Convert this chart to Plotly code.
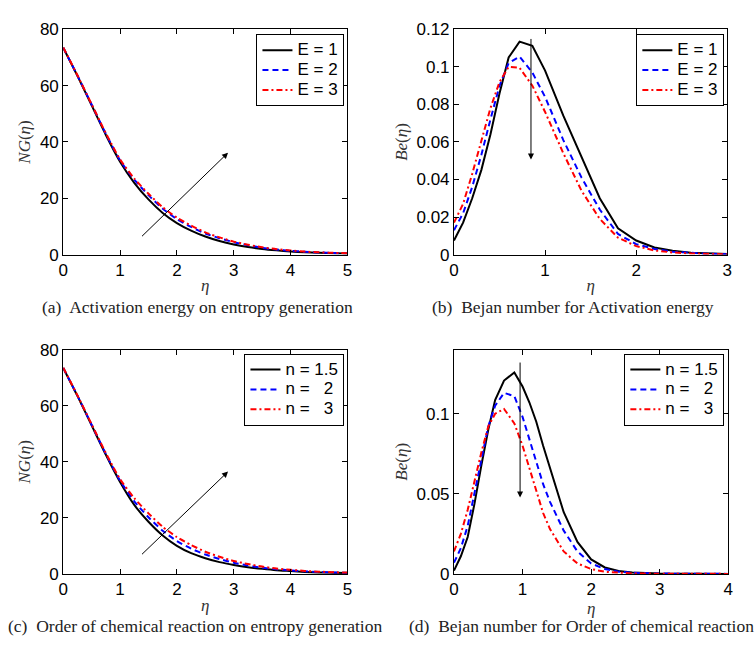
import plotly.graph_objects as go

# ---------------- data ----------------
eta_ng = [0, 0.25, 0.5, 0.75, 1.0, 1.25, 1.5, 1.75, 2.0, 2.25, 2.5, 2.75, 3.0,
          3.25, 3.5, 3.75, 4.0, 4.25, 4.5, 4.75, 5.0]

ng_E1 = [73.5, 63.5, 53.0, 42.5, 33.0, 25.5, 19.6, 14.8, 11.2, 8.5, 6.4, 4.8, 3.6,
         2.7, 2.0, 1.5, 1.1, 0.8, 0.6, 0.45, 0.35]
ng_E2 = [73.5, 63.6, 53.3, 42.9, 33.5, 26.6, 21.1, 16.3, 12.6, 9.8, 7.5, 5.8, 4.4,
         3.3, 2.4, 1.8, 1.35, 1.0, 0.75, 0.55, 0.42]
ng_E3 = [73.6, 63.7, 53.4, 43.1, 33.8, 27.0, 21.6, 16.8, 13.1, 10.3, 7.9, 6.1, 4.6,
         3.5, 2.6, 1.9, 1.45, 1.05, 0.8, 0.6, 0.45]

ng_n15 = [73.5, 63.5, 53.0, 42.5, 32.8, 24.6, 18.6, 13.7, 10.0, 7.4, 5.6, 4.2, 3.2,
          2.4, 1.8, 1.3, 1.0, 0.7, 0.5, 0.4, 0.3]
ng_n2 = [73.5, 63.6, 53.2, 42.8, 33.3, 25.9, 20.2, 15.4, 11.7, 9.0, 6.9, 5.3, 4.0,
         3.0, 2.2, 1.65, 1.25, 0.9, 0.7, 0.5, 0.4]
ng_n3 = [73.6, 63.7, 53.4, 43.1, 33.8, 27.0, 21.6, 16.8, 13.1, 10.3, 7.9, 6.1, 4.6,
         3.5, 2.6, 1.9, 1.45, 1.05, 0.8, 0.6, 0.45]

eta_be_E = [0, 0.1, 0.2, 0.3, 0.4, 0.5, 0.6, 0.72, 0.86, 1.0, 1.2, 1.4, 1.6, 1.8,
            2.0, 2.2, 2.4, 2.6, 2.8, 3.0]
be_E1 = [0.0075, 0.017, 0.030, 0.045, 0.064, 0.086, 0.105, 0.1135, 0.1112, 0.098,
         0.074, 0.052, 0.030, 0.014, 0.0075, 0.0038, 0.002, 0.001, 0.0005, 0.0003]
be_E2 = [0.013, 0.022, 0.036, 0.053, 0.072, 0.090, 0.102, 0.1055, 0.097, 0.084,
         0.061, 0.041, 0.024, 0.011, 0.0055, 0.003, 0.0015, 0.0008, 0.0004, 0.0002]
be_E3 = [0.017, 0.027, 0.043, 0.060, 0.078, 0.092, 0.100, 0.0995, 0.090, 0.076,
         0.054, 0.034, 0.019, 0.009, 0.0045, 0.0022, 0.0011, 0.0006, 0.0003, 0.0001]

eta_be_n = [0, 0.1, 0.2, 0.3, 0.4, 0.5, 0.6, 0.73, 0.88, 1.0, 1.1, 1.2, 1.3, 1.4,
            1.6, 1.8, 2.0, 2.2, 2.4, 2.6, 3.0, 3.5, 4.0]
be_n15 = [0.002, 0.011, 0.023, 0.044, 0.068, 0.090, 0.1085, 0.1207, 0.1258, 0.117,
          0.107, 0.095, 0.080, 0.066, 0.0385, 0.020, 0.009, 0.004, 0.0018, 0.0009,
          0.0003, 0.0001, 0.0]
be_n2 = [0.007, 0.016, 0.030, 0.050, 0.072, 0.092, 0.105, 0.113, 0.111, 0.098,
         0.084, 0.070, 0.056, 0.045, 0.027, 0.014, 0.0065, 0.003, 0.0014, 0.0007,
         0.0002, 0.0001, 0.0]
be_n3 = [0.014, 0.025, 0.040, 0.058, 0.076, 0.092, 0.100, 0.103, 0.094, 0.080,
         0.066, 0.051, 0.038, 0.028, 0.014, 0.0065, 0.003, 0.0013, 0.0006, 0.0003,
         0.0001, 0.0, 0.0]

labels_E = ["E = 1", "E = 2", "E = 3"]
labels_n = ["n = 1.5", "n =\u00a0\u00a0\u00a02", "n =\u00a0\u00a0\u00a03"]
captions = ["(a)\u00a0 Activation energy on entropy generation",
            "(b)\u00a0 Bejan number for Activation energy",
            "(c)\u00a0 Order of chemical reaction on entropy generation",
            "(d)\u00a0 Bejan number for Order of chemical reaction"]

# ---------------- styling ----------------
W, H = 756, 646
colors = ["black", "blue", "red"]
dashes = ["solid", "6px,4px", "6px,3px,2px,3px"]
TICKFONT = dict(family="Liberation Sans, Arial, sans-serif", size=17, color="black")
TITLEFONT = dict(family="Liberation Serif, Times New Roman, serif", size=17, color="#333")
CAPFONT = dict(family="Liberation Serif, Times New Roman, serif", size=17.5, color="#222")

fig = go.Figure()

panels = [
    dict(x=eta_ng, ys=[ng_E1, ng_E2, ng_E3], labels=labels_E, shape="spline"),
    dict(x=eta_be_E, ys=[be_E1, be_E2, be_E3], labels=labels_E, shape="linear"),
    dict(x=eta_ng, ys=[ng_n15, ng_n2, ng_n3], labels=labels_n, shape="spline"),
    dict(x=eta_be_n, ys=[be_n15, be_n2, be_n3], labels=labels_n, shape="linear"),
]

for p_i, p in enumerate(panels):
    ax = "" if p_i == 0 else str(p_i + 1)
    leg = "legend" if p_i == 0 else "legend" + str(p_i + 1)
    for k in range(3):
        fig.add_trace(go.Scatter(
            x=p["x"], y=p["ys"][k], mode="lines",
            name='<span style="font-size:17px">' + p["labels"][k] + "</span>",
            line=dict(color=colors[k], width=2, dash=dashes[k], shape=p["shape"],
                      smoothing=0.6),
            xaxis="x" + ax, yaxis="y" + ax, legend=leg, showlegend=True))

# axis pixel boxes (left, right, top, bottom)
boxes = [(59, 347, 21, 253), (455, 732, 21, 253), (59, 347, 351, 582), (455, 733, 351, 582)]
xranges = [[0, 5], [0, 3], [0, 5], [0, 4]]
yranges = [[0, 80], [0, 0.12], [0, 80], [0, 0.14]]
ytickvals = [[0, 20, 40, 60, 80], [0, 0.02, 0.04, 0.06, 0.08, 0.1, 0.12],
             [0, 20, 40, 60, 80], [0, 0.05, 0.1]]
yticktext = [["0", "20", "40", "60", "80"],
             ["0", "0.02", "0.04", "0.06", "0.08", "0.1", "0.12"],
             ["0", "20", "40", "60", "80"], ["0", "0.05", "0.1"]]
ytitles = ["<i>NG</i>(<i>η</i>)", "<i>Be</i>(<i>η</i>)", "<i>NG</i>(<i>η</i>)", "<i>Be</i>(<i>η</i>)"]

layout = dict(width=W, height=H, margin=dict(l=0, r=0, t=0, b=0), autosize=False,
              paper_bgcolor="white", plot_bgcolor="white")

for i, (l, r, t, b) in enumerate(boxes):
    ax = "" if i == 0 else str(i + 1)
    common = dict(showline=True, linecolor="black", linewidth=1, mirror="allticks",
                  ticks="inside", ticklen=5, tickcolor="black", showgrid=False,
                  zeroline=False, tickfont=TICKFONT)
    layout["xaxis" + ax] = dict(common, domain=[l / W, r / W], range=xranges[i],
                                dtick=1, tick0=0, anchor="y" + ax,
                                title=dict(text="<i>η</i>", font=TITLEFONT, standoff=0))
    layout["yaxis" + ax] = dict(common, domain=[1 - b / H, 1 - t / H], range=yranges[i],
                                tickvals=ytickvals[i], ticktext=yticktext[i],
                                anchor="x" + ax,
                                title=dict(text=ytitles[i], font=TITLEFONT, standoff=4))

legend_pos = [(344, 26), (729, 26), (344, 355), (729, 355)]
for i, (lx, ly) in enumerate(legend_pos):
    key = "legend" if i == 0 else "legend" + str(i + 1)
    layout[key] = dict(x=lx / W, y=1 - ly / H, xanchor="right", yanchor="top",
                       xref="paper", yref="paper",
                       bgcolor="white", bordercolor="black", borderwidth=1,
                       font=dict(family="Liberation Sans, Arial, sans-serif", size=13,
                                 color="black"),
                       tracegroupgap=0, itemwidth=30)

fig.update_layout(**layout)

# arrows (in data coordinates)
arrows = [
    ("x", "y", 1.36, 6.0, 2.9, 36.2),
    ("x2", "y2", 0.845, 0.1157, 0.845, 0.0506),
    ("x3", "y3", 1.36, 6.5, 2.9, 36.5),
    ("x4", "y4", 0.964, 0.1329, 0.964, 0.0477),
]
for xr, yr, x0, y0, x1, y1 in arrows:
    fig.add_annotation(x=x1, y=y1, ax=x0, ay=y0, xref=xr, yref=yr, axref=xr, ayref=yr,
                       showarrow=True, arrowhead=2, arrowsize=1.2, arrowwidth=1,
                       arrowcolor="black", text="")

# captions
cap_pos = [(195, 307), (576, 307), (193, 636), (584, 636)]
for (cx, cy), txt in zip(cap_pos, captions):
    fig.add_annotation(x=cx / W, y=1 - cy / H, xref="paper", yref="paper",
                       text=txt, showarrow=False, font=CAPFONT,
                       xanchor="center", yanchor="middle", yshift=0)

fig.write_html("out.html")
